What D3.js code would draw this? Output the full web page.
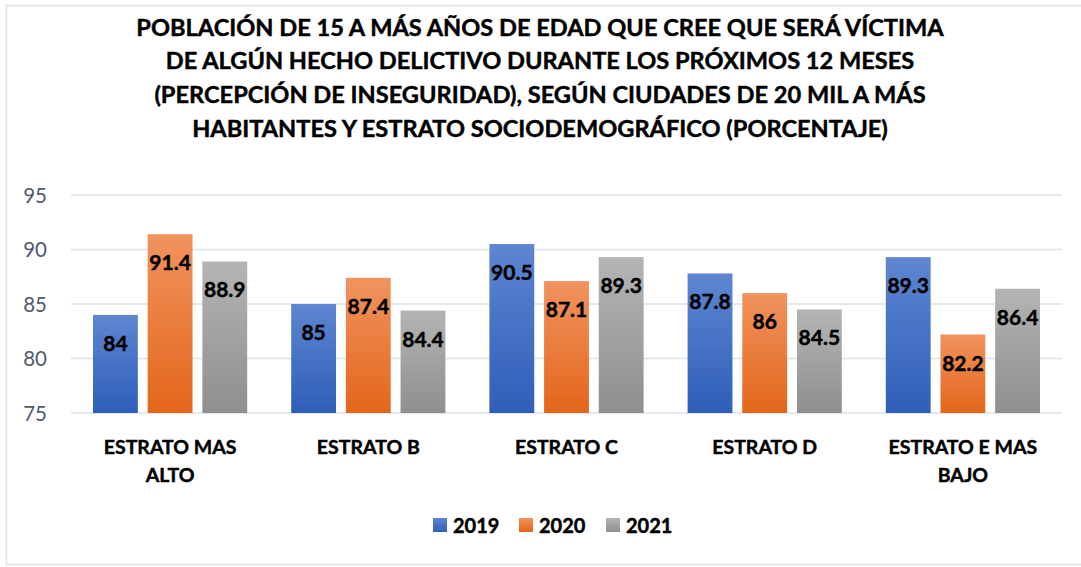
<!DOCTYPE html>
<html>
<head>
<meta charset="utf-8">
<script src="https://cdn.jsdelivr.net/npm/d3@7"></script>
<style>
  html, body { margin: 0; padding: 0; background: #fff; }
  svg { display: block; }
  .heavy { stroke: #000; stroke-width: 0.45px; paint-order: stroke; }
</style>
</head>
<body>
<svg id="chart" width="1081" height="567"></svg>
<script>
// Chart data
const categories = [["ESTRATO MAS", "ALTO"], ["ESTRATO B"], ["ESTRATO C"], ["ESTRATO D"], ["ESTRATO E MAS", "BAJO"]];
const seriesNames = ["2019", "2020", "2021"];
const values2019 = [84, 85, 90.5, 87.8, 89.3];
const values2020 = [91.4, 87.4, 87.1, 86, 82.2];
const values2021 = [88.9, 84.4, 89.3, 84.5, 86.4];
const yTicks = [75, 80, 85, 90, 95];
const titleLines = [
  "POBLACIÓN DE 15 A MÁS AÑOS DE EDAD QUE CREE QUE SERÁ VÍCTIMA",
  "DE ALGÚN HECHO DELICTIVO DURANTE LOS PRÓXIMOS 12 MESES",
  "(PERCEPCIÓN DE INSEGURIDAD), SEGÚN CIUDADES DE 20 MIL A MÁS",
  "HABITANTES Y ESTRATO SOCIODEMOGRÁFICO (PORCENTAJE)"
];

const series = [values2019, values2020, values2021];
const font = "Lato, 'Open Sans', sans-serif";
const svg = d3.select("#chart");

// Gradients for each series
const gradStops = [
  ["#5E86D1", "#2F5EB9"],
  ["#F1935F", "#E3661B"],
  ["#B4B4B4", "#8F8F8F"]
];
const defs = svg.append("defs");
gradStops.forEach((s, i) => {
  const g = defs.append("linearGradient").attr("id", "grad" + i)
    .attr("x1", 0).attr("y1", 0).attr("x2", 0).attr("y2", 1);
  g.append("stop").attr("offset", "0%").attr("stop-color", s[0]);
  g.append("stop").attr("offset", "100%").attr("stop-color", s[1]);
});

// Outer frame
svg.append("rect").attr("x", 6.5).attr("y", 5.5).attr("width", 1080).attr("height", 559)
  .attr("fill", "#fff").attr("stroke", "#DDE2E8").attr("stroke-width", 1.5);

// Title
const title = svg.append("text").attr("class", "heavy").attr("text-anchor", "middle")
  .attr("font-family", font).attr("font-weight", "bold").attr("font-size", 23.6).attr("fill", "#000");
titleLines.forEach((t, i) => {
  title.append("tspan").attr("x", 540).attr("y", 35.5 + i * 33.7).text(t);
});

// Scales
const x0 = d3.scaleBand().domain(d3.range(categories.length)).range([71, 1062]).paddingInner(0).paddingOuter(0);
const x1 = d3.scaleBand().domain(d3.range(series.length)).range([22, x0.bandwidth() - 22]).paddingInner(0.18);
const y = d3.scaleLinear().domain([75, 95]).range([413, 195]);

// Gridlines
svg.append("g").selectAll("line").data(yTicks).join("line")
  .attr("x1", 71).attr("x2", 1062)
  .attr("y1", d => y(d)).attr("y2", d => y(d))
  .attr("stroke", "#DDE2E8").attr("stroke-width", 1.5);

// Y axis labels
const yAxis = svg.append("g").attr("transform", "translate(47,0)")
  .call(d3.axisLeft(y).tickValues(yTicks).tickSize(0).tickPadding(0));
yAxis.select(".domain").remove();
yAxis.selectAll("text").attr("font-family", font).attr("font-size", 20.5)
  .attr("fill", "#4F5B6E").attr("dy", "0.35em");

// Bars
const groups = svg.append("g").selectAll("g").data(categories).join("g")
  .attr("transform", (d, i) => `translate(${x0(i)},0)`);

groups.each(function(cat, ci) {
  const g = d3.select(this);
  series.forEach((vals, si) => {
    const v = vals[ci];
    g.append("rect")
      .attr("x", x1(si)).attr("width", x1.bandwidth())
      .attr("y", y(v)).attr("height", y(75) - y(v))
      .attr("fill", `url(#grad${si})`);
    g.append("text").attr("class", "heavy")
      .attr("x", x1(si) + x1.bandwidth() / 2)
      .attr("y", y(v) + 36)
      .attr("text-anchor", "middle")
      .attr("font-family", font).attr("font-weight", "bold").attr("font-size", 21)
      .attr("fill", "#000")
      .text(v);
  });
  // Category label
  const lab = g.append("text").attr("class", "heavy").attr("text-anchor", "middle")
    .attr("font-family", font).attr("font-weight", "bold").attr("font-size", 19.5).attr("fill", "#000");
  cat.forEach((line, li) => {
    lab.append("tspan").attr("x", x0.bandwidth() / 2).attr("y", 454 + li * 28).text(line);
  });
});

// Legend
const legendX = [433, 519, 606];
const legend = svg.append("g");
seriesNames.forEach((name, i) => {
  legend.append("rect").attr("x", legendX[i]).attr("y", 518).attr("width", 14).attr("height", 14)
    .attr("fill", `url(#grad${i})`);
  legend.append("text").attr("class", "heavy").attr("x", legendX[i] + 20).attr("y", 533)
    .attr("font-family", font).attr("font-weight", "bold").attr("font-size", 20).attr("fill", "#000")
    .text(name);
});
</script>
</body>
</html>
